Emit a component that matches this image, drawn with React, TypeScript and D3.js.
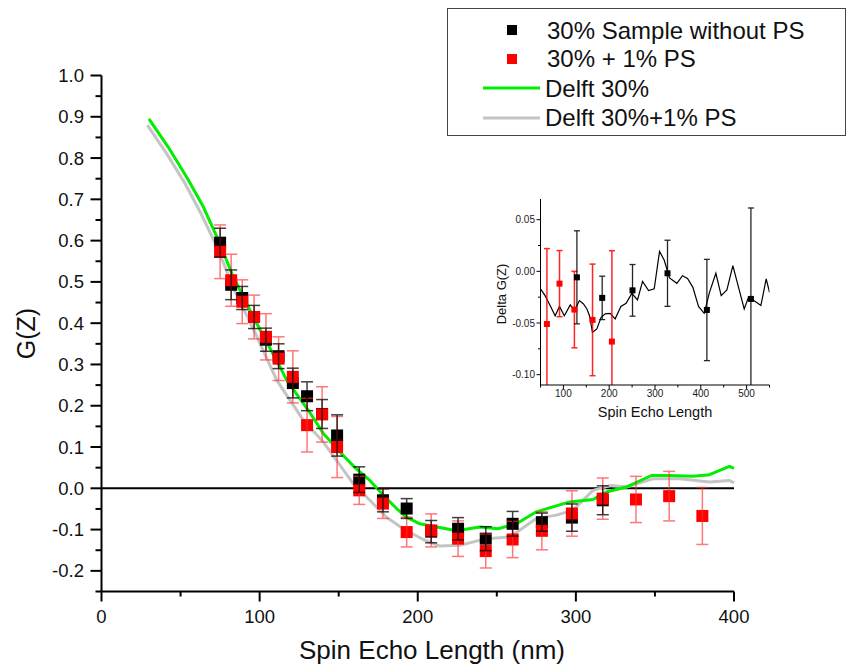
import React from "react";
import * as d3 from "d3";

// ---------- Main plot data ----------
const ptX = [75, 82, 89, 96.5, 104, 112, 121, 130, 139.5, 149, 163, 178, 193, 208.5, 225.5, 243, 260, 278.5, 297.5, 317];
const blackY = [0.595, 0.493, 0.461, 0.415, 0.36, 0.32, 0.255, 0.223, 0.18, 0.128, 0.021, -0.029, -0.049, -0.105, -0.098, -0.122, -0.086, -0.082, -0.071, -0.029];
const blackErr = [0.035, 0.036, 0.028, 0.028, 0.028, 0.03, 0.036, 0.035, 0.035, 0.05, 0.031, 0.028, 0.024, 0.027, 0.027, 0.029, 0.03, 0.022, 0.033, 0.035];

const redX = [75, 82, 89, 96.5, 104, 112, 121, 130, 139.5, 149, 163, 178, 193, 208.5, 225.5, 243, 260, 278.5, 297.5, 317, 338, 359, 380];
const redY = [0.573, 0.504, 0.452, 0.415, 0.367, 0.314, 0.27, 0.153, 0.179, 0.1, -0.005, -0.037, -0.106, -0.102, -0.122, -0.152, -0.124, -0.103, -0.061, -0.025, -0.027, -0.019, -0.067];
const redErr = [0.065, 0.063, 0.053, 0.053, 0.056, 0.053, 0.063, 0.065, 0.067, 0.074, 0.034, 0.036, 0.036, 0.04, 0.043, 0.041, 0.044, 0.046, 0.055, 0.05, 0.056, 0.06, 0.069];

const greenX = [30, 42.3, 54.3, 64.4, 73.9, 83.4, 96, 112.9, 117.1, 130.8, 140.3, 150.8, 160.3, 169.7, 178.3, 186.6, 192.9, 201.3, 213.9, 224.5, 239.2, 250.8, 262.4, 275, 296, 310.8, 319.3, 331.9, 347.7, 359.2, 374, 384.5, 397.1, 400];
const greenY = [0.895, 0.826, 0.751, 0.682, 0.601, 0.512, 0.415, 0.294, 0.262, 0.189, 0.133, 0.088, 0.05, 0.019, -0.017, -0.049, -0.07, -0.086, -0.095, -0.103, -0.094, -0.098, -0.086, -0.057, -0.033, -0.027, -0.009, 0.003, 0.031, 0.031, 0.029, 0.033, 0.053, 0.048];

const grayX = [29, 41, 53, 63, 73, 84, 96, 110.8, 127.6, 140.3, 150.8, 159.3, 169.7, 180.3, 190.8, 203.5, 214, 226.6, 243.5, 258.2, 275, 287.7, 298.2, 310.8, 322.4, 331.9, 348.7, 365.7, 384.5, 397.1, 400];
const grayY = [0.88, 0.812, 0.737, 0.665, 0.585, 0.48, 0.386, 0.262, 0.165, 0.112, 0.056, 0.011, -0.029, -0.07, -0.098, -0.124, -0.14, -0.138, -0.122, -0.118, -0.073, -0.065, -0.053, -0.005, 0.007, 0.003, 0.023, 0.023, 0.015, 0.019, 0.013];

const xTicks = [0, 100, 200, 300, 400];
const yTicks = [-0.2, -0.1, 0.0, 0.1, 0.2, 0.3, 0.4, 0.5, 0.6, 0.7, 0.8, 0.9, 1.0];

const legendLabels = ["30% Sample without PS", "30% + 1% PS", "Delft 30%", "Delft 30%+1% PS"];

// ---------- Inset data ----------
const insetLineX = [50, 60, 71, 82, 91.5, 102, 115, 124, 135, 143.9, 151.3, 157, 163.5, 173, 182.4, 191.3, 202, 213, 225.5, 237, 249.5, 261.8, 272.8, 286, 298.3, 309.9, 320, 331.7, 347.8, 360, 371, 382.7, 395, 407.4, 419, 432.9, 444.5, 457, 470, 482.4, 494.8, 504.2, 516.6, 531.2, 542.8, 550];
const insetLineY = [-0.017, -0.0235, -0.033, -0.043, -0.034, -0.043, -0.0325, -0.038, -0.0283, -0.0316, -0.0364, -0.043, -0.059, -0.0557, -0.0445, -0.0412, -0.0406, -0.046, -0.034, -0.031, -0.0213, -0.0277, -0.0097, -0.0187, -0.017, 0.0193, 0.011, -0.0064, -0.0116, -0.0042, -0.0068, -0.0155, -0.034, -0.0406, -0.0203, -0.0019, -0.0235, -0.018, 0.0055, -0.0155, -0.0364, -0.025, -0.0284, -0.033, -0.0074, -0.0203];

const insetBlackX = [129.5, 184.7, 250.9, 327.3, 413.3, 509.4];
const insetBlackY = [-0.0058, -0.0257, -0.0184, -0.0019, -0.0374, -0.0267];
const insetBlackErr = [0.045, 0.021, 0.025, 0.032, 0.049, 0.088];

const insetRedX = [64, 91.5, 124, 163.6, 205.9];
const insetRedY = [-0.051, -0.0119, -0.037, -0.047, -0.068];
const insetRedErr = [0.073, 0.032, 0.037, 0.054, 0.088];

const insetXTicks = [100, 200, 300, 400, 500];
const insetYTicks = [0.05, 0.0, -0.05, -0.1];

const FONT = "Liberation Sans, Arial, sans-serif";

export default function App() {
  const W = 848, H = 668;
  const x = d3.scaleLinear().domain([0, 400]).range([101.5, 734]);
  const y = d3.scaleLinear().domain([-0.25, 1.0]).range([591.5, 75.5]);

  const ix = d3.scaleLinear().domain([50, 550]).range([540.5, 769.5]);
  const iy = d3.scaleLinear().domain([-0.11, 0.07]).range([385, 199]);

  const line = d3.line<[number, number]>().x((d) => x(d[0])).y((d) => y(d[1]));
  const iline = d3.line<[number, number]>().x((d) => ix(d[0])).y((d) => iy(d[1]));

  const greenData = greenX.map((v, i) => [v, greenY[i]] as [number, number]);
  const grayData = grayX.map((v, i) => [v, grayY[i]] as [number, number]);
  const insetData = insetLineX.map((v, i) => [v, insetLineY[i]] as [number, number]);

  const xMinor = d3.range(0, 401, 50);
  const yMinor = d3.range(-0.25, 1.0001, 0.05);
  const ixMinor = d3.range(50, 551, 50);
  const iyMinor = d3.range(-0.1, 0.0701, 0.025);

  const sq = 12;
  const cap = 12;
  const isq = 6;
  const icap = 6;

  const errBars = (xs: number[], ys: number[], es: number[], sx: any, sy: any, color: string, cw: number, sw: number, op: number) =>
    xs.map((v, i) => {
      const cx = sx(v);
      const t = sy(ys[i] + es[i]);
      const b = sy(ys[i] - es[i]);
      return (
        <g key={i} stroke={color} strokeWidth={sw} opacity={op}>
          <line x1={cx} x2={cx} y1={t} y2={b} />
          <line x1={cx - cw / 2} x2={cx + cw / 2} y1={t} y2={t} />
          <line x1={cx - cw / 2} x2={cx + cw / 2} y1={b} y2={b} />
        </g>
      );
    });

  return (
    <svg width={W} height={H} style={{ position: "absolute", left: 0, top: 0, background: "#fff" }} fontFamily={FONT}>
      <defs>
        <clipPath id="insetClip">
          <rect x={ix(50)} y={iy(0.07)} width={ix(550) - ix(50)} height={iy(-0.11) - iy(0.07)} />
        </clipPath>
      </defs>
      <rect x={0} y={0} width={W} height={H} fill="#fff" />

      {/* zero line */}
      <line x1={x(0)} x2={x(400)} y1={y(0)} y2={y(0)} stroke="#000" strokeWidth={2} />

      {/* model lines */}
      <path d={line(grayData) || ""} fill="none" stroke="#c4c4c4" strokeWidth={3} strokeLinejoin="round" />
      <path d={line(greenData) || ""} fill="none" stroke="#00ee00" strokeWidth={3} strokeLinejoin="round" />

      {/* squares */}
      {ptX.map((v, i) => (
        <rect key={"b" + i} x={x(v) - sq / 2} y={y(blackY[i]) - sq / 2} width={sq} height={sq} fill="#000" />
      ))}
      {redX.map((v, i) => (
        <rect key={"r" + i} x={x(v) - sq / 2} y={y(redY[i]) - sq / 2} width={sq} height={sq} fill="#ff0000" />
      ))}
      {errBars(redX, redY, redErr, x, y, "#ff3030", cap, 1.5, 0.65)}
      {errBars(ptX, blackY, blackErr, x, y, "#000", cap, 1.5, 0.75)}

      {/* main axes */}
      <line x1={x(0)} x2={x(400)} y1={y(-0.25)} y2={y(-0.25)} stroke="#000" strokeWidth={2} />
      <line x1={x(0)} x2={x(0)} y1={y(-0.25)} y2={y(1.0)} stroke="#000" strokeWidth={2} />
      {xMinor.map((v) => (
        <line key={"xm" + v} x1={x(v)} x2={x(v)} y1={y(-0.25)} y2={y(-0.25) + (v % 100 === 0 ? 10 : 5)} stroke="#000" strokeWidth={2} />
      ))}
      {yMinor.map((v, i) => (
        <line key={"ym" + i} x1={x(0)} x2={x(0) - (i % 2 === 1 ? 11 : 6)} y1={y(v)} y2={y(v)} stroke="#000" strokeWidth={2} />
      ))}
      {xTicks.map((v) => (
        <text key={"xt" + v} x={x(v)} y={623} fontSize={18.5} textAnchor="middle" fill="#111">{v}</text>
      ))}
      {yTicks.map((v) => (
        <text key={"yt" + v} x={84} y={y(v) + 6.5} fontSize={18.5} textAnchor="end" fill="#111">{v.toFixed(1)}</text>
      ))}
      <text x={432} y={659} fontSize={26} textAnchor="middle" fill="#111">Spin Echo Length (nm)</text>
      <text transform={`translate(35,${(y(1) + y(-0.25)) / 2}) rotate(-90)`} fontSize={25} textAnchor="middle" fill="#111">G(Z)</text>

      {/* legend */}
      <rect x={447.5} y={8.5} width={398} height={127} fill="#fff" stroke="#444" strokeWidth={1} />
      <rect x={507} y={25} width={10} height={10} fill="#000" />
      <rect x={507} y={54} width={10} height={10} fill="#ff0000" />
      <line x1={483} x2={540} y1={88} y2={88} stroke="#00ee00" strokeWidth={3} />
      <line x1={483} x2={540} y1={118} y2={118} stroke="#c4c4c4" strokeWidth={3} />
      {legendLabels.map((t, i) => (
        <text key={t} x={i < 2 ? 547 : 545} y={[38.5, 67, 96.5, 126][i]} fontSize={24} fill="#111">{t}</text>
      ))}

      {/* inset */}
      <g clipPath="url(#insetClip)">
        <path d={iline(insetData) || ""} fill="none" stroke="#000" strokeWidth={1.2} />
        {errBars(insetRedX, insetRedY, insetRedErr, ix, iy, "#ff0000", icap, 1.5, 0.85)}
        {errBars(insetBlackX, insetBlackY, insetBlackErr, ix, iy, "#000", icap, 1.3, 0.85)}
        {insetRedX.map((v, i) => (
          <rect key={"ir" + i} x={ix(v) - isq / 2} y={iy(insetRedY[i]) - isq / 2} width={isq} height={isq} fill="#ff0000" />
        ))}
        {insetBlackX.map((v, i) => (
          <rect key={"ib" + i} x={ix(v) - isq / 2} y={iy(insetBlackY[i]) - isq / 2} width={isq} height={isq} fill="#000" />
        ))}
      </g>
      <line x1={ix(50)} x2={ix(550)} y1={iy(-0.11)} y2={iy(-0.11)} stroke="#000" strokeWidth={1} />
      <line x1={ix(50)} x2={ix(50)} y1={iy(-0.11)} y2={iy(0.07)} stroke="#000" strokeWidth={1} />
      {ixMinor.map((v) => (
        <line key={"ixm" + v} x1={ix(v)} x2={ix(v)} y1={iy(-0.11)} y2={iy(-0.11) + (v % 100 === 0 ? 4 : 2.5)} stroke="#000" strokeWidth={1} />
      ))}
      {iyMinor.map((v, i) => (
        <line key={"iym" + i} x1={ix(50)} x2={ix(50) - (i % 2 === 0 ? 4 : 2.5)} y1={iy(v)} y2={iy(v)} stroke="#000" strokeWidth={1} />
      ))}
      {insetXTicks.map((v) => (
        <text key={"ixt" + v} x={ix(v)} y={397} fontSize={10} textAnchor="middle" fill="#222">{v}</text>
      ))}
      {insetYTicks.map((v) => (
        <text key={"iyt" + v} x={535} y={iy(v) + 3.5} fontSize={10} textAnchor="end" fill="#222">{v.toFixed(2)}</text>
      ))}
      <text x={ix(300)} y={417} fontSize={14.5} textAnchor="middle" fill="#111">Spin Echo Length</text>
      <text transform={`translate(506,${(iy(0.07) + iy(-0.11)) / 2 + 2}) rotate(-90)`} fontSize={13} textAnchor="middle" fill="#111">Delta G(Z)</text>
    </svg>
  );
}
